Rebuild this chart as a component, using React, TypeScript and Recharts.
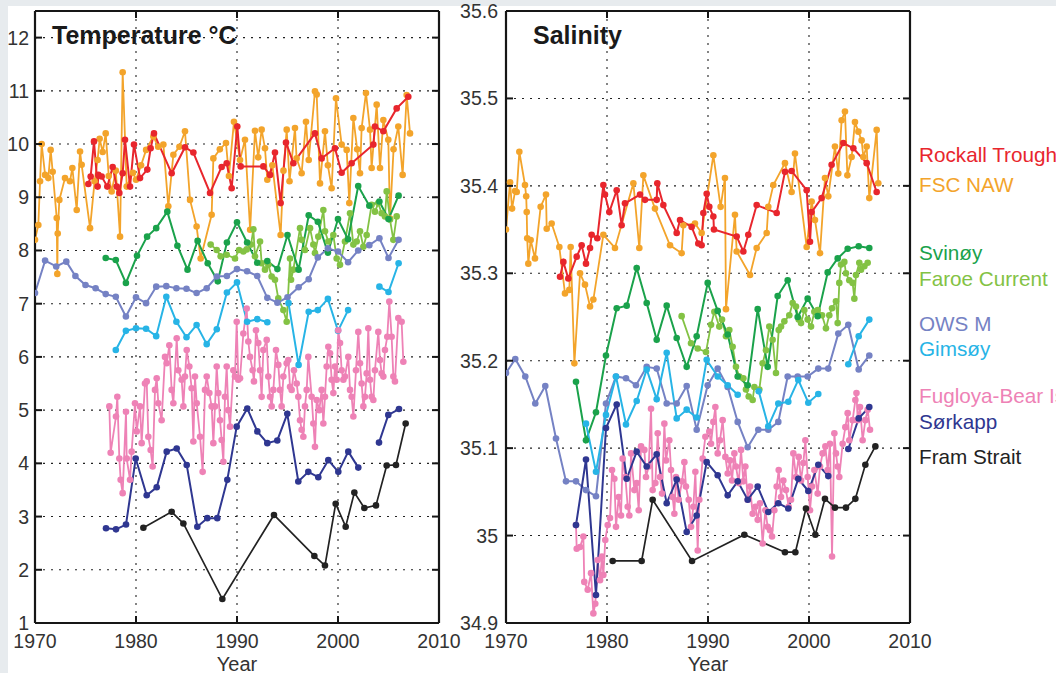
import React from "react";
import { LineChart, Line, XAxis, YAxis, CartesianGrid } from "recharts";

type Pt = [number, number | null];

// ---------- Temperature (°C) ----------
const rockallT: Pt[] = [[1975.28,9.25],[1975.51,9.39],[1975.84,10.05],[1976.2,9.2],[1976.27,9.42],[1976.6,9.39],[1977.16,9.2],[1977.69,9.57],[1978.09,9.2],[1978.35,9.08],[1978.68,9.45],[1978.91,10.08],[1979.41,9.2],[1979.8,9.99],[1980.4,9.36],[1981.12,9.52],[1981.45,9.92],[1981.78,10.2],[1983.53,9.45],[1984.85,9.94],[1985.68,9.84],[1987.33,9.08],[1988.48,9.57],[1988.98,9.64],[1989.47,9.17],[1990.03,10.33],[1990.36,9.58],[1992.61,9.58],[1993.27,9.42],[1993.76,9.84],[1994.32,8.89],[1994.85,10.03],[1995.58,9.64],[1997.72,10.2],[1998.38,9.73],[1999.7,9.92],[2000.36,9.46],[2001.35,9.64],[2003.5,9.99],[2003.66,10.33],[2004.49,10.24],[2005.81,10.67],[2006.96,10.89]];
const fscT: Pt[] = [[1970.0,8.2],[1970.33,8.48],[1970.5,9.3],[1970.66,10.0],[1971.0,9.42],[1971.32,9.36],[1971.55,9.89],[1971.75,9.48],[1972.15,8.61],[1972.21,7.56],[1972.25,8.32],[1972.41,8.95],[1972.97,9.36],[1973.46,9.3],[1973.7,9.55],[1974.13,8.76],[1974.46,9.86],[1974.62,9.61],[1975.45,8.42],[1975.9,9.3],[1976.2,9.7],[1976.4,10.1],[1976.7,9.85],[1977.0,10.2],[1977.3,9.4],[1977.59,9.11],[1978.0,9.5],[1978.42,8.26],[1978.68,11.35],[1979.08,9.2],[1979.7,9.46],[1980.0,9.33],[1980.5,9.6],[1981.0,9.89],[1981.72,10.14],[1982.2,9.95],[1982.71,9.99],[1983.2,8.83],[1983.7,9.8],[1984.3,9.95],[1984.85,10.24],[1985.35,8.95],[1986.0,8.45],[1986.4,7.85],[1987.49,8.67],[1987.66,9.73],[1988.3,9.9],[1988.91,10.02],[1989.2,9.4],[1989.7,10.42],[1990.3,9.7],[1990.79,10.08],[1991.3,8.39],[1991.78,10.25],[1992.1,9.75],[1992.44,10.27],[1992.77,9.92],[1993.0,9.33],[1993.5,9.6],[1994.32,8.29],[1994.6,9.5],[1994.92,10.27],[1995.2,9.3],[1995.74,10.3],[1995.9,9.73],[1996.4,9.45],[1996.83,10.42],[1997.1,9.7],[1997.72,10.99],[1997.89,10.93],[1998.22,9.26],[1998.71,10.24],[1999.0,9.6],[1999.37,9.17],[1999.8,10.86],[2000.36,9.99],[2000.86,9.89],[2001.12,8.89],[2001.52,10.49],[2001.9,9.9],[2002.18,9.45],[2002.34,10.3],[2002.77,10.96],[2003.17,10.27],[2003.33,9.55],[2003.83,10.74],[2004.16,9.55],[2004.49,10.45],[2004.98,10.08],[2005.15,8.6],[2005.5,9.9],[2005.97,10.33],[2006.4,9.42],[2006.8,10.92],[2007.13,10.2]];
const svinoyT: Pt[] = [[1977.0,7.86],[1978.0,7.82],[1979.0,7.39],[1980.1,7.9],[1981.1,8.26],[1982.0,8.42],[1983.1,8.73],[1984.1,8.09],[1985.1,7.64],[1986.1,8.18],[1987.1,7.76],[1988.1,7.42],[1989.0,8.15],[1990.0,8.53],[1991.0,8.15],[1992.0,7.77],[1993.0,7.8],[1994.0,7.65],[1995.0,8.29],[1996.1,7.64],[1997.1,8.66],[1998.0,8.54],[1999.0,7.96],[2000.0,8.59],[2001.0,8.21],[2002.0,9.21],[2003.1,8.84],[2004.1,8.92],[2005.0,8.59],[2006.0,9.03]];
const faroeT: Pt[] = [[1987.39,8.11],[1987.99,8.01],[1988.38,7.89],[1988.98,7.92],[1989.8,7.85],[1990.2,8.01],[1990.63,7.98],[1990.96,8.02],[1991.39,8.11],[1991.62,8.4],[1991.78,7.89],[1992.28,8.17],[1992.44,7.76],[1992.77,7.64],[1993.1,7.73],[1993.43,7.51],[1993.76,7.45],[1994.09,7.1],[1994.59,6.88],[1994.92,6.66],[1995.25,7.85],[1995.35,7.45],[1995.58,7.64],[1996.24,8.42],[1996.4,8.2],[1996.73,8.01],[1997.23,8.42],[1997.56,8.11],[1997.72,7.95],[1998.05,8.26],[1998.55,8.76],[1998.71,8.36],[1999.04,8.17],[1999.54,8.29],[1999.87,7.85],[2000.2,7.73],[2000.69,8.17],[2001.19,8.7],[2001.52,8.11],[2001.85,8.17],[2002.18,8.36],[2002.51,8.07],[2002.84,8.29],[2003.33,8.86],[2003.66,8.73],[2003.99,8.89],[2004.32,8.7],[2004.65,8.64],[2004.82,9.11],[2005.15,8.58],[2005.48,8.2],[2005.81,8.64]];
const owsT: Pt[] = [[1970.0,7.2],[1971.0,7.81],[1972.1,7.7],[1973.1,7.79],[1974.0,7.52],[1975.0,7.35],[1976.0,7.29],[1977.0,7.18],[1978.0,7.13],[1979.0,6.76],[1980.0,7.12],[1981.0,7.01],[1982.0,7.32],[1983.0,7.33],[1984.0,7.29],[1985.0,7.28],[1986.0,7.2],[1987.0,7.29],[1988.0,7.51],[1989.0,7.52],[1990.0,7.65],[1991.0,7.61],[1992.0,7.52],[1993.0,7.11],[1994.0,7.02],[1995.0,7.12],[1996.1,7.31],[1997.1,7.46],[1998.0,7.87],[1999.0,8.04],[2000.0,7.98],[2001.0,7.78],[2002.0,8.0],[2003.1,8.1],[2004.1,8.23],[2005.0,7.86],[2006.0,8.2]];
const gimsoyT: Pt[] = [[1978.0,6.13],[1979.0,6.49],[1980.0,6.54],[1981.0,6.53],[1982.0,6.39],[1983.0,7.13],[1984.0,6.66],[1985.0,6.37],[1986.0,6.6],[1987.0,6.24],[1988.0,6.52],[1989.0,7.21],[1990.0,7.4],[1991.0,6.66],[1992.0,6.71],[1993.0,6.65],[1994.0,null],[1995.1,7.01],[1996.1,5.85],[1997.1,6.85],[1998.0,6.88],[1999.0,7.09],[2000.0,6.49],[2001.0,6.88],[2002.5,null],[2004.1,7.32],[2005.0,7.22],[2006.0,7.76]];
const fugloyaT: Pt[] = [[1977.36,5.07],[1977.49,4.2],[1978.02,4.88],[1978.15,5.25],[1978.35,4.09],[1978.48,3.69],[1978.68,3.44],[1979.01,4.97],[1979.08,4.09],[1979.41,3.69],[1979.57,4.22],[1979.9,5.13],[1980.07,4.6],[1980.4,5.07],[1980.56,4.38],[1980.89,5.5],[1981.06,5.54],[1981.22,4.5],[1981.45,4.25],[1981.65,3.94],[1981.88,5.38],[1982.05,5.6],[1982.21,5.13],[1982.54,4.81],[1982.87,6.0],[1983.04,5.88],[1983.3,6.22],[1983.53,5.38],[1983.7,5.13],[1984.03,6.35],[1984.19,5.75],[1984.52,5.57],[1984.69,5.07],[1984.85,5.63],[1985.02,6.13],[1985.28,5.82],[1985.51,5.41],[1985.68,4.41],[1985.84,5.63],[1986.01,5.13],[1986.34,4.5],[1986.6,3.84],[1986.83,5.38],[1987.0,5.63],[1987.26,5.32],[1987.49,5.07],[1987.66,4.38],[1987.82,5.07],[1987.99,5.82],[1988.15,5.32],[1988.32,4.81],[1988.48,4.44],[1988.65,4.03],[1988.81,5.25],[1988.98,5.82],[1989.14,5.0],[1989.31,4.69],[1989.64,5.75],[1989.8,5.63],[1989.97,6.66],[1990.13,5.57],[1990.3,5.6],[1990.63,6.44],[1990.96,6.91],[1991.12,6.29],[1991.29,6.0],[1991.55,5.75],[1991.68,5.54],[1991.88,6.5],[1992.11,6.26],[1992.28,5.75],[1992.44,5.25],[1992.61,6.13],[1992.94,6.32],[1993.1,5.63],[1993.27,5.25],[1993.43,5.07],[1993.6,5.38],[1993.86,6.13],[1994.09,5.85],[1994.26,5.38],[1994.42,5.07],[1994.59,5.63],[1994.92,5.88],[1995.08,5.94],[1995.25,5.44],[1995.41,5.38],[1995.64,5.75],[1995.91,5.5],[1996.07,5.25],[1996.24,4.81],[1996.4,4.63],[1996.57,4.5],[1996.73,5.07],[1996.9,5.38],[1997.06,6.0],[1997.39,5.25],[1997.56,4.75],[1997.72,4.31],[1997.89,5.19],[1998.15,5.0],[1998.38,5.38],[1998.55,4.75],[1998.71,5.25],[1998.88,5.82],[1999.04,6.19],[1999.21,6.07],[1999.37,5.57],[1999.54,5.32],[1999.7,5.82],[1999.87,5.57],[2000.03,6.5],[2000.2,6.26],[2000.36,5.75],[2000.53,5.57],[2000.69,5.63],[2001.02,6.0],[2001.19,5.38],[2001.35,5.25],[2001.52,4.88],[2001.78,5.75],[2002.01,6.47],[2002.18,5.88],[2002.34,5.5],[2002.51,5.07],[2002.67,5.25],[2002.84,5.69],[2003.0,6.54],[2003.17,5.57],[2003.33,5.25],[2003.5,5.19],[2003.66,5.75],[2003.99,6.47],[2004.16,5.94],[2004.32,5.69],[2004.49,5.63],[2004.65,6.13],[2004.88,6.38],[2005.08,7.04],[2005.31,6.38],[2005.48,5.63],[2005.64,5.54],[2005.97,6.73],[2006.3,6.66],[2006.47,5.91]];
const sorkappT: Pt[] = [[1977.03,2.78],[1978.02,2.76],[1979.01,2.85],[1979.97,4.09],[1981.06,3.4],[1982.05,3.55],[1983.04,4.22],[1984.03,4.28],[1985.02,3.97],[1986.07,2.81],[1987.06,2.97],[1988.05,2.97],[1989.04,3.69],[1989.97,4.69],[1991.02,5.03],[1992.01,4.6],[1993.0,4.38],[1993.99,4.43],[1994.98,4.93],[1996.07,3.66],[1997.06,3.84],[1998.05,3.74],[1999.04,4.06],[2000.03,3.84],[2001.02,4.22],[2002.01,3.92],[2003.0,null],[2004.06,4.39],[2004.98,4.91],[2006.04,5.02]];
const framT: Pt[] = [[1980.73,2.79],[1983.53,3.09],[1984.69,2.87],[1988.55,1.45],[1993.66,3.03],[1997.66,2.26],[1998.71,2.08],[1999.77,3.24],[2000.76,2.81],[2001.62,3.45],[2002.61,3.16],[2003.76,3.21],[2004.82,3.96],[2005.74,3.97],[2006.7,4.75]];

// ---------- Salinity ----------
const rockallS: Pt[] = [[1975.35,35.296],[1975.68,35.313],[1976.17,35.294],[1977.0,35.319],[1977.49,35.332],[1977.92,35.311],[1978.32,35.329],[1978.48,35.344],[1979.04,35.34],[1979.64,35.401],[1979.8,35.39],[1980.23,35.37],[1980.96,35.395],[1981.45,35.355],[1981.78,35.38],[1983.27,35.39],[1983.76,35.384],[1984.92,35.384],[1984.98,35.403],[1985.58,35.378],[1986.9,35.346],[1987.23,35.361],[1988.38,35.353],[1989.04,35.334],[1989.37,35.332],[1989.54,35.369],[1989.87,35.391],[1990.13,35.376],[1990.53,35.365],[1990.59,35.35],[1992.84,35.342],[1993.5,35.325],[1993.99,35.344],[1994.82,35.378],[1996.8,35.369],[1997.62,35.416],[1998.28,35.417],[1999.77,35.395],[2000.1,35.336],[2000.26,35.37],[2001.25,35.386],[2002.24,35.424],[2003.4,35.449],[2004.39,35.443],[2005.71,35.426],[2006.7,35.393]];
const fscS: Pt[] = [[1970.0,35.35],[1970.4,35.404],[1970.6,35.374],[1970.9,35.394],[1971.06,35.393],[1971.32,35.439],[1971.88,35.401],[1972.0,35.388],[1972.05,35.37],[1972.1,35.34],[1972.21,35.311],[1972.44,35.338],[1972.87,35.317],[1973.43,35.376],[1973.96,35.39],[1974.03,35.351],[1974.52,35.357],[1975.28,35.33],[1975.84,35.277],[1976.27,35.281],[1976.4,35.33],[1976.77,35.197],[1977.33,35.3],[1977.82,35.287],[1978.32,35.262],[1978.65,35.27],[1979.64,35.344],[1980.79,35.329],[1982.61,35.403],[1983.2,35.329],[1983.6,35.412],[1984.75,35.374],[1986.24,35.332],[1987.39,35.323],[1987.56,35.355],[1988.71,35.357],[1989.37,35.346],[1990.53,35.435],[1991.25,35.376],[1991.68,35.409],[1991.78,35.259],[1992.67,35.367],[1992.84,35.325],[1994.16,35.298],[1994.82,35.329],[1995.81,35.346],[1995.97,35.376],[1996.47,35.401],[1997.62,35.426],[1998.28,35.393],[1998.61,35.437],[1999.77,35.33],[2000.26,35.382],[2000.59,35.361],[2001.09,35.323],[2001.58,35.409],[2001.91,35.388],[2002.57,35.445],[2002.9,35.414],[2003.23,35.475],[2003.56,35.485],[2003.8,35.412],[2004.22,35.433],[2004.55,35.473],[2004.89,35.462],[2005.21,35.452],[2005.38,35.433],[2005.71,35.445],[2005.97,35.386],[2006.7,35.464],[2006.86,35.403]];
const svinoyS: Pt[] = [[1976.93,35.176],[1977.92,35.109],[1978.91,35.141],[1979.9,35.206],[1980.96,35.26],[1981.95,35.263],[1982.94,35.306],[1983.93,35.266],[1984.92,35.224],[1985.91,35.263],[1986.9,35.226],[1987.89,35.193],[1988.88,35.228],[1989.97,35.289],[1990.96,35.257],[1991.95,35.23],[1992.94,35.182],[1993.93,35.172],[1994.92,35.259],[1995.91,35.193],[1996.9,35.274],[1997.89,35.292],[1998.88,35.25],[1999.87,35.271],[2000.86,35.251],[2001.85,35.301],[2002.84,35.317],[2003.83,35.328],[2004.92,35.331],[2005.97,35.329]];
const faroeS: Pt[] = [[1987.39,35.251],[1988.32,35.22],[1988.98,35.214],[1989.8,35.21],[1990.3,35.241],[1990.63,35.256],[1991.12,35.239],[1991.39,35.247],[1991.78,35.228],[1992.11,35.235],[1992.44,35.216],[1992.77,35.193],[1993.1,35.182],[1993.5,35.18],[1993.76,35.167],[1994.03,35.159],[1994.42,35.155],[1994.59,35.17],[1995.08,35.167],[1995.41,35.197],[1995.74,35.212],[1996.07,35.239],[1996.4,35.224],[1996.73,35.186],[1997.0,35.235],[1997.23,35.239],[1997.56,35.245],[1998.05,35.252],[1998.38,35.266],[1998.71,35.262],[1998.98,35.247],[1999.21,35.243],[1999.54,35.258],[1999.87,35.247],[2000.2,35.239],[2000.53,35.256],[2000.86,35.258],[2001.29,35.252],[2001.68,35.237],[2002.01,35.252],[2002.28,35.26],[2002.67,35.268],[2002.84,35.243],[2003.0,35.289],[2003.17,35.31],[2003.5,35.313],[2003.66,35.3],[2003.99,35.292],[2004.32,35.289],[2004.49,35.271],[2004.65,35.298],[2004.98,35.312],[2005.15,35.304],[2005.48,35.308],[2005.81,35.312]];
const owsS: Pt[] = [[1970.0,35.186],[1970.92,35.202],[1971.91,35.182],[1972.9,35.151],[1973.89,35.171],[1974.95,35.111],[1975.94,35.062],[1976.93,35.062],[1977.92,35.052],[1978.91,35.045],[1979.9,35.151],[1980.89,35.182],[1981.88,35.18],[1982.87,35.172],[1983.93,35.193],[1984.92,35.191],[1985.91,35.151],[1986.9,35.151],[1987.89,35.171],[1988.88,35.121],[1989.97,35.172],[1990.96,35.191],[1991.95,35.17],[1992.94,35.13],[1993.93,35.101],[1994.98,35.121],[1995.97,35.121],[1996.96,35.13],[1997.89,35.182],[1998.88,35.182],[1999.87,35.182],[2000.92,35.191],[2001.91,35.191],[2002.9,35.231],[2003.89,35.241],[2004.92,35.19],[2005.97,35.206]];
const gimsoyS: Pt[] = [[1977.92,35.128],[1978.91,35.073],[1979.9,35.138],[1980.89,35.182],[1981.88,35.127],[1982.94,35.154],[1983.93,35.19],[1984.92,35.156],[1985.91,35.209],[1986.9,35.134],[1987.89,35.144],[1988.88,35.135],[1989.87,35.201],[1990.96,35.182],[1991.95,35.172],[1992.94,35.161],[1994.0,null],[1995.02,35.165],[1995.97,35.125],[1996.96,35.151],[1997.95,35.153],[1998.94,35.178],[1999.93,35.152],[2000.92,35.162],[2002.5,null],[2003.89,35.196],[2004.92,35.228],[2005.97,35.247]];
const fugloyaS: Pt[] = [[1976.93,35.012],[1977.0,34.985],[1977.33,34.987],[1977.66,34.999],[1977.75,34.947],[1978.09,34.938],[1978.42,34.957],[1978.65,34.911],[1978.84,34.922],[1979.08,34.972],[1979.31,34.949],[1979.5,34.976],[1979.64,34.955],[1979.83,34.995],[1980.07,35.012],[1980.3,35.02],[1980.5,35.075],[1980.73,35.065],[1980.89,35.01],[1981.16,35.044],[1981.39,35.023],[1981.55,35.088],[1981.82,35.067],[1982.05,35.033],[1982.21,35.023],[1982.38,35.094],[1982.71,35.052],[1982.94,35.06],[1983.14,35.029],[1983.37,35.102],[1983.7,35.098],[1983.86,35.067],[1984.13,35.079],[1984.36,35.145],[1984.52,35.052],[1984.79,35.06],[1985.02,35.117],[1985.25,35.067],[1985.45,35.048],[1985.68,35.128],[1985.84,35.086],[1986.17,35.109],[1986.34,35.075],[1986.5,35.044],[1986.67,35.025],[1986.83,35.067],[1987.1,35.041],[1987.43,35.062],[1987.66,35.084],[1987.82,35.056],[1988.09,35.041],[1988.32,35.01],[1988.55,35.033],[1988.75,35.073],[1988.98,34.983],[1989.14,35.041],[1989.47,35.088],[1989.74,35.113],[1990.13,35.119],[1990.3,35.105],[1990.53,35.13],[1990.73,35.147],[1990.96,35.094],[1991.19,35.109],[1991.45,35.132],[1991.72,35.09],[1991.95,35.071],[1992.18,35.086],[1992.38,35.063],[1992.61,35.094],[1992.77,35.079],[1993.04,35.06],[1993.27,35.098],[1993.5,35.062],[1993.7,35.079],[1993.93,35.041],[1994.16,35.056],[1994.42,35.025],[1994.69,35.033],[1994.92,35.018],[1995.15,35.037],[1995.41,34.991],[1995.68,35.029],[1995.91,35.01],[1996.14,35.006],[1996.34,34.999],[1996.57,35.029],[1996.8,35.056],[1997.0,35.075],[1997.23,35.044],[1997.46,35.063],[1997.72,35.052],[1997.99,35.033],[1998.22,35.041],[1998.45,35.094],[1998.71,35.067],[1998.98,35.09],[1999.21,35.063],[1999.44,35.083],[1999.64,35.109],[1999.87,35.067],[2000.1,35.029],[2000.3,35.056],[2000.53,35.075],[2000.86,35.048],[2001.09,35.079],[2001.35,35.094],[2001.62,35.102],[2001.85,35.075],[2002.08,35.105],[2002.28,34.976],[2002.51,35.117],[2002.67,35.094],[2002.84,35.079],[2003.0,35.067],[2003.33,35.105],[2003.6,35.124],[2003.83,35.14],[2003.99,35.109],[2004.32,35.132],[2004.59,35.155],[2004.7,35.163],[2004.82,35.132],[2005.05,35.147],[2005.31,35.109],[2005.58,35.132],[2005.81,35.144],[2006.04,35.121]];
const sorkappS: Pt[] = [[1976.93,35.012],[1977.92,35.087],[1978.91,34.932],[1979.9,35.123],[1980.96,35.15],[1981.95,35.065],[1982.94,35.096],[1983.93,35.079],[1984.92,35.093],[1985.91,35.037],[1986.9,35.064],[1987.89,35.004],[1988.88,35.023],[1989.87,35.084],[1990.96,35.069],[1991.95,35.046],[1992.94,35.062],[1993.93,35.041],[1994.92,35.056],[1995.97,35.027],[1996.96,35.037],[1997.95,35.031],[1998.94,35.065],[1999.93,35.051],[2000.92,35.081],[2001.91,35.068],[2003.0,null],[2003.89,35.099],[2004.92,35.134],[2005.97,35.147]];
const framS: Pt[] = [[1980.56,34.971],[1983.43,34.971],[1984.52,35.041],[1988.42,34.971],[1993.6,35.001],[1997.62,34.981],[1998.65,34.981],[1999.7,35.031],[2000.63,35.001],[2001.58,35.042],[2002.57,35.032],[2003.66,35.032],[2004.59,35.042],[2005.58,35.081],[2006.57,35.102]];

// ---------- Axes / labels ----------
const xTicks = [1970, 1980, 1990, 2000, 2010];
const tTicks = [1, 2, 3, 4, 5, 6, 7, 8, 9, 10, 11, 12];
const sTicks = [34.9, 35.0, 35.1, 35.2, 35.3, 35.4, 35.5, 35.6];
const tDomain: [number, number] = [1, 12.5];
const sDomain: [number, number] = [34.9, 35.6];
const titles = ["Temperature °C", "Salinity"];
const xLabel = "Year";

const legendNames = ["Rockall Trough", "FSC NAW", "Svinøy", "Faroe Current", "OWS M", "Gimsøy", "Fugloya-Bear Island", "Sørkapp", "Fram Strait"];
const legendBaselines = [162, 192, 260, 286, 331, 356, 403, 429, 464];

const COLORS = {
  rockall: "#e8262d",
  fsc: "#f3a42b",
  svinoy: "#1aa24b",
  faroe: "#83c244",
  ows: "#7582c4",
  gimsoy: "#27b4e6",
  fugloya: "#ee82b6",
  sorkapp: "#2f3791",
  fram: "#222222",
};
const legendColors = [COLORS.rockall, COLORS.fsc, COLORS.svinoy, COLORS.faroe, COLORS.ows, COLORS.gimsoy, COLORS.fugloya, COLORS.sorkapp, COLORS.fram];

const FONT = "'Liberation Sans', Arial, Helvetica, sans-serif";
const AXIS = "#161616";
const TXT = "#333333";

interface SeriesDef { key: string; color: string; width: number; pts: Pt[] }

const tSeries: SeriesDef[] = [
  { key: "fsc", color: COLORS.fsc, width: 1.8, pts: fscT },
  { key: "rockall", color: COLORS.rockall, width: 2, pts: rockallT },
  { key: "faroe", color: COLORS.faroe, width: 1.8, pts: faroeT },
  { key: "svinoy", color: COLORS.svinoy, width: 2, pts: svinoyT },
  { key: "ows", color: COLORS.ows, width: 2, pts: owsT },
  { key: "gimsoy", color: COLORS.gimsoy, width: 2, pts: gimsoyT },
  { key: "fugloya", color: COLORS.fugloya, width: 1.8, pts: fugloyaT },
  { key: "sorkapp", color: COLORS.sorkapp, width: 2, pts: sorkappT },
  { key: "fram", color: COLORS.fram, width: 1.7, pts: framT },
];
const sSeries: SeriesDef[] = [
  { key: "fsc", color: COLORS.fsc, width: 1.8, pts: fscS },
  { key: "rockall", color: COLORS.rockall, width: 2, pts: rockallS },
  { key: "faroe", color: COLORS.faroe, width: 1.8, pts: faroeS },
  { key: "svinoy", color: COLORS.svinoy, width: 2, pts: svinoyS },
  { key: "ows", color: COLORS.ows, width: 2, pts: owsS },
  { key: "gimsoy", color: COLORS.gimsoy, width: 2, pts: gimsoyS },
  { key: "fugloya", color: COLORS.fugloya, width: 1.8, pts: fugloyaS },
  { key: "sorkapp", color: COLORS.sorkapp, width: 2, pts: sorkappS },
  { key: "fram", color: COLORS.fram, width: 1.7, pts: framS },
];

const toData = (pts: Pt[]) => pts.map(([x, v]) => ({ x, v }));
const fmtNum = (v: number) => String(Number(v.toFixed(1)));

interface PanelProps {
  left: number;
  width: number;
  yWidth: number;
  rightMargin: number;
  domain: [number, number];
  yTicks: number[];
  series: SeriesDef[];
  labelGap: number;
}

function Panel({ left, width, yWidth, rightMargin, domain, yTicks, series, labelGap }: PanelProps) {
  const TL = 7;
  const LeftTick = (p: any) => {
    const ax = p.x + labelGap;
    return (
      <g>
        <line x1={ax} x2={ax + TL} y1={p.y} y2={p.y} stroke={AXIS} strokeWidth={2} />
        <text x={p.x} y={p.y} dy="0.36em" textAnchor="end" fontSize={19.5} fill={TXT} fontFamily={FONT}>
          {fmtNum(p.payload.value)}
        </text>
      </g>
    );
  };
  const RightTick = (p: any) => (
    <line x1={p.x} x2={p.x - TL} y1={p.y} y2={p.y} stroke={AXIS} strokeWidth={2} />
  );
  const BottomTick = (p: any) => {
    const ay = p.y - 6;
    return (
      <g>
        <line x1={p.x} x2={p.x} y1={ay} y2={ay - TL} stroke={AXIS} strokeWidth={2} />
        <text x={p.x} y={ay + 25} textAnchor="middle" fontSize={19.5} fill={TXT} fontFamily={FONT}>
          {p.payload.value}
        </text>
      </g>
    );
  };
  const TopTick = (p: any) => (
    <line x1={p.x} x2={p.x} y1={p.y} y2={p.y + TL} stroke={AXIS} strokeWidth={2} />
  );
  const axisLine = { stroke: AXIS, strokeWidth: 2.2 };
  return (
    <div style={{ position: "absolute", left, top: 0 }}>
      <LineChart width={width} height={673} margin={{ top: 10, right: rightMargin, bottom: 0, left: 0 }}>
        <CartesianGrid stroke="#222" strokeDasharray="2 6" strokeWidth={1.1} />
        <XAxis dataKey="x" type="number" domain={[1970, 2010]} ticks={xTicks} interval={0} allowDataOverflow stroke={AXIS}
          height={50} tickSize={0} tickMargin={6} tickLine={false} tick={BottomTick} axisLine={axisLine} />
        <XAxis xAxisId="top" orientation="top" dataKey="x" type="number" domain={[1970, 2010]} ticks={xTicks} interval={0} allowDataOverflow stroke={AXIS}
          height={1} tickSize={0} tickMargin={0} tickLine={false} tick={TopTick} axisLine={axisLine} />
        <YAxis type="number" domain={domain} ticks={yTicks} interval={0} allowDataOverflow stroke={AXIS}
          width={yWidth} tickSize={0} tickMargin={labelGap} tickLine={false} tick={LeftTick} axisLine={axisLine} />
        <YAxis yAxisId="right" orientation="right" type="number" domain={domain} ticks={yTicks} interval={0} allowDataOverflow stroke={AXIS}
          width={1} tickSize={0} tickMargin={0} tickLine={false} tick={RightTick} axisLine={axisLine} />
        {series.map((s) => (
          <Line
            key={s.key}
            data={toData(s.pts)}
            dataKey="v"
            type="linear"
            stroke={s.color}
            strokeWidth={s.width}
            dot={{ r: 3.3, fill: s.color, stroke: s.color, strokeWidth: 0 }}
            activeDot={false}
            connectNulls={false}
            isAnimationActive={false}
          />
        ))}
      </LineChart>
    </div>
  );
}

export default function App() {
  return (
    <div style={{ position: "absolute", left: 0, top: 0, width: 1056, height: 673, background: "#e7ebee", overflow: "hidden", fontFamily: FONT }}>
      <div style={{ position: "absolute", left: 8, top: 6, width: 1048, height: 667, background: "#ffffff" }} />
      <Panel left={0} width={470} yWidth={35} rightMargin={30} domain={tDomain} yTicks={tTicks} series={tSeries} labelGap={6} />
      <Panel left={440} width={520} yWidth={66} rightMargin={49} domain={sDomain} yTicks={sTicks} series={sSeries} labelGap={8} />
      <svg width={1056} height={673} style={{ position: "absolute", left: 0, top: 0, pointerEvents: "none" }}>
        <text x={52} y={44} fontSize={25} fontWeight="bold" fill="#1a1a1a" fontFamily={FONT}>{titles[0]}</text>
        <text x={533} y={44} fontSize={25} fontWeight="bold" fill="#1a1a1a" fontFamily={FONT}>{titles[1]}</text>
        <text x={237} y={671} fontSize={20} textAnchor="middle" fill={TXT} fontFamily={FONT}>{xLabel}</text>
        <text x={708} y={671} fontSize={20} textAnchor="middle" fill={TXT} fontFamily={FONT}>{xLabel}</text>
        {legendNames.map((n, i) => (
          <text key={n} x={919} y={legendBaselines[i]} fontSize={20.7} fill={legendColors[i]} fontFamily={FONT}>{n}</text>
        ))}
      </svg>
    </div>
  );
}
